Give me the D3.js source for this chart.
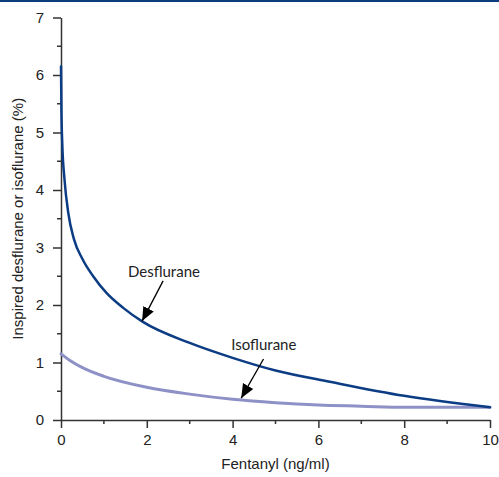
<!DOCTYPE html>
<html>
<head>
<meta charset="utf-8">
<script src="https://cdn.jsdelivr.net/npm/d3@7"></script>
<style>
  body { margin: 0; background: #fff; }
  svg { display: block; font-family: Lato, "Open Sans", sans-serif; }
  .tick text { font-size: 15px; fill: #222; }
  .label { font-size: 15px; fill: #222; }
</style>
</head>
<body>
<svg id="chart"></svg>
<script>
/* data */
var desX = [0, 0.01, 0.03, 0.08, 0.17, 0.3, 0.5, 0.75, 1.06, 1.45, 1.9, 3, 4, 5, 6.3, 8, 10];
var desY = [6.15, 5.4, 4.8, 4.2, 3.6, 3.15, 2.8, 2.5, 2.21, 1.95, 1.71, 1.34, 1.08, 0.86, 0.66, 0.42, 0.22];
var isoX = [0, 0.2, 0.5, 1, 2, 3, 4, 5, 6, 7, 8, 9, 10];
var isoY = [1.15, 1.04, 0.91, 0.76, 0.57, 0.45, 0.36, 0.3, 0.26, 0.24, 0.22, 0.22, 0.22];
var xTicks = [0, 2, 4, 6, 8, 10];
var yTicks = [0, 1, 2, 3, 4, 5, 6, 7];
var xMinor = [1, 3, 5, 7, 9];
var yMinor = [0.5, 1.5, 2.5, 3.5, 4.5, 5.5, 6.5];
var xLegend = "Fentanyl (ng/ml)";
var yLegend = "Inspired desflurane or isoflurane (%)";
/* annotations: [label, text x, text y, arrow from x, y, arrow tip x, y] */
var notes = [
  ["Desflurane", 1.56, 2.49, 2.38, 2.42, 1.89, 1.72],
  ["Isoflurane", 3.97, 1.21, 4.72, 1.06, 4.2, 0.38]
];

var width = 499, height = 477,
    margin = { top: 17.5, bottom: 57, left: 61, right: 9 };
var innerWidth = width - margin.left - margin.right,
    innerHeight = height - margin.top - margin.bottom;

var svg = d3.select("#chart").attr("width", width).attr("height", height);

// blue rule along the top edge
svg.append("rect").attr("x", 0).attr("y", 0).attr("width", width).attr("height", 2)
  .attr("fill", "#0b3c7c");

svg.append("defs").append("marker")
  .attr("id", "head").attr("viewBox", "0 0 10 10")
  .attr("refX", 10).attr("refY", 5)
  .attr("markerWidth", 14).attr("markerHeight", 14)
  .attr("markerUnits", "userSpaceOnUse")
  .attr("orient", "auto")
  .append("path").attr("d", "M0,0.8L10,5L0,9.2Z").attr("fill", "#000");

var g = svg.append("g")
  .attr("transform", "translate(" + margin.left + "," + margin.top + ")");

var xScale = d3.scaleLinear().domain([0, 10]).range([0, innerWidth]);
var yScale = d3.scaleLinear().domain([0, 7]).range([innerHeight, 0]);

/* axes */
var xAxisG = g.append("g").attr("transform", "translate(0," + innerHeight + ")")
  .call(d3.axisBottom(xScale).tickValues(xTicks).tickFormat(d3.format("d"))
    .tickSize(8).tickSizeOuter(0).tickPadding(6));
xAxisG.selectAll(".minor").data(xMinor).enter().append("line")
  .attr("x1", xScale).attr("x2", xScale).attr("y1", 0).attr("y2", 4);

var yAxisG = g.append("g")
  .call(d3.axisLeft(yScale).tickValues(yTicks).tickFormat(d3.format("d"))
    .tickSize(8).tickSizeOuter(0).tickPadding(9));
yAxisG.selectAll(".minor").data(yMinor).enter().append("line")
  .attr("y1", yScale).attr("y2", yScale).attr("x1", 0).attr("x2", -4);

g.selectAll(".domain, .tick line, line").attr("stroke", "#333").attr("stroke-width", 1.5);
g.selectAll(".tick text").attr("font-size", null);

xAxisG.append("text").attr("class", "label")
  .attr("x", innerWidth / 2).attr("y", 49)
  .attr("text-anchor", "middle").text(xLegend);

yAxisG.append("text").attr("class", "label")
  .attr("transform", "rotate(-90)")
  .attr("x", -innerHeight / 2).attr("y", -38)
  .attr("text-anchor", "middle").text(yLegend);

/* lines */
var line = d3.line()
  .x(function(d) { return xScale(d[0]); })
  .y(function(d) { return yScale(d[1]); })
  .curve(d3.curveMonotoneX);

g.append("path").datum(isoX.map(function(v, i) { return [v, isoY[i]]; }))
  .attr("fill", "none").attr("stroke", "#8e91c6").attr("stroke-width", 3)
  .attr("stroke-linecap", "round").attr("d", line);

g.append("path").datum(desX.map(function(v, i) { return [v, desY[i]]; }))
  .attr("fill", "none").attr("stroke", "#0b3c84").attr("stroke-width", 2.5)
  .attr("stroke-linecap", "round").attr("d", line);

/* annotations */
var ann = g.selectAll(".note").data(notes).enter().append("g").attr("class", "note");
ann.append("text").attr("class", "label")
  .attr("x", function(d) { return xScale(d[1]); })
  .attr("y", function(d) { return yScale(d[2]); })
  .text(function(d) { return d[0]; });
ann.append("line")
  .attr("x1", function(d) { return xScale(d[3]); })
  .attr("y1", function(d) { return yScale(d[4]); })
  .attr("x2", function(d) { return xScale(d[5]); })
  .attr("y2", function(d) { return yScale(d[6]); })
  .attr("stroke", "#000").attr("stroke-width", 1.3)
  .attr("marker-end", "url(#head)");
</script>
</body>
</html>
